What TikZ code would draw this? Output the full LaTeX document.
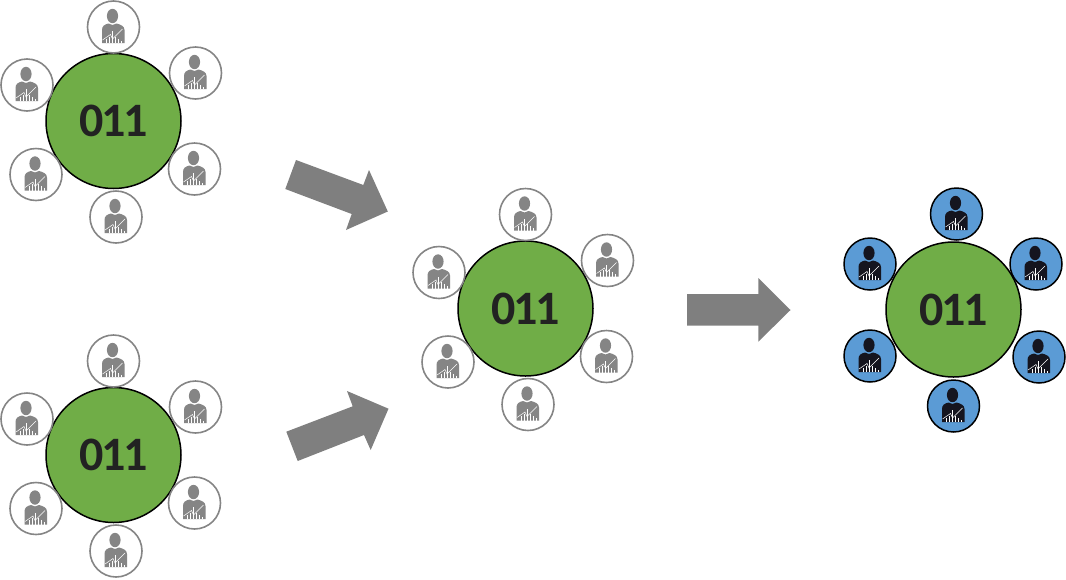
\documentclass[tikz,border=0pt]{standalone}
\usepackage{fontspec}
\setmainfont{Carlito}
\newfontfamily\numfont[LetterSpace=-5]{Carlito Bold}
\definecolor{hubgreen}{HTML}{70AD47}
\definecolor{satblue}{HTML}{5B9BD5}
\definecolor{arrowgray}{HTML}{7F7F7F}
\definecolor{labelink}{HTML}{222222}
\definecolor{darkicon}{HTML}{15151F}
\definecolor{grayicon}{HTML}{858585}
\tikzset{
  hub/.style={circle,draw=black,line width=1.5pt,fill=hubgreen,minimum size=135pt,inner sep=0pt,
    text=labelink,font=\numfont\fontsize{48}{48}\selectfont},
  satgray/.style={circle,draw=grayicon,line width=1.6pt,fill=white,minimum size=52pt,inner sep=0pt},
  satdark/.style={circle,draw=black,line width=1.5pt,fill=satblue,minimum size=52pt,inner sep=0pt},
  bigarrow/.style={fill=arrowgray,draw=none},
  pics/person/.style={code={
    \fill[#1] (-1,-11) ellipse [x radius=5.6, y radius=7.2];
    \fill[#1] (-11.5,16) -- (-11.5,3) .. controls (-11.5,-1) and (-9,-2.5) .. (-5,-3.5)
       -- (-1,-2) -- (3,-3.5) .. controls (7,-2.5) and (11,-1) .. (11,3) -- (11,16) -- cycle;
  }},
  pics/chartmarks/.style={code={
    \draw[white,line width=.5pt] (-11,13) -- (-3,7.5) -- (-1,12) -- (9,2);
    \draw[white,line width=.55pt] (-7,16) -- (-7,11.5) (-4,16) -- (-4,9.5) (-1,16) -- (-1,4)
      (2,16) -- (2,9.5) (5,16) -- (5,11.5) (8,16) -- (8,13.5);
  }}
}
\newcommand{\satnode}[6]{% name, x, y, style, icon colour
  \node[#4] (#1) at (#2,#3) {};
  \pic at (#1.center) {person=#5};
  \pic at (#1.center) {chartmarks};
}
\newcommand{\graygroup}[3]{%
  \node[hub] (#1hub) at (#2,#3) {011};
  \satnode{#1a}{#2+0}{#3-94}{satgray}{grayicon}{}
  \satnode{#1b}{#2+82}{#3-48}{satgray}{grayicon}{}
  \satnode{#1c}{#2+81}{#3+48}{satgray}{grayicon}{}
  \satnode{#1d}{#2+2.5}{#3+96}{satgray}{grayicon}{}
  \satnode{#1e}{#2-77.5}{#3+53.5}{satgray}{grayicon}{}
  \satnode{#1f}{#2-86.5}{#3-36}{satgray}{grayicon}{}
}
\begin{document}
\begin{tikzpicture}[x=1pt,y=-1pt]
\useasboundingbox (0,0) rectangle (1066,579);
\graygroup{top}{113.5}{121}
\graygroup{low}{113.5}{455}
\graygroup{mid}{525.5}{308.5}
\node[hub] (endhub) at (953.5,309.5) {011};
\satnode{enda}{956.5}{214}{satdark}{darkicon}{}
\satnode{endb}{1036}{264}{satdark}{darkicon}{}
\satnode{endc}{1039}{357}{satdark}{darkicon}{}
\satnode{endd}{953.5}{406}{satdark}{darkicon}{}
\satnode{ende}{870}{356}{satdark}{darkicon}{}
\satnode{endf}{870}{264}{satdark}{darkicon}{}
\fill[bigarrow] (296,160) -- (285.3,189) -- (351.7,214) -- (346,230) -- (387.8,211.5) -- (369,170) -- (363.3,185) -- cycle;
\fill[bigarrow] (286.3,431.7) -- (297.7,461) -- (364,435) -- (370.7,450) -- (388.5,408.7) -- (347,391) -- (352.7,406.3) -- cycle;
\fill[bigarrow] (687,294) -- (687,325.7) -- (758.3,325.7) -- (758.3,341.7) -- (790.5,310) -- (758.3,278) -- (758.3,294) -- cycle;
\end{tikzpicture}
\end{document}
